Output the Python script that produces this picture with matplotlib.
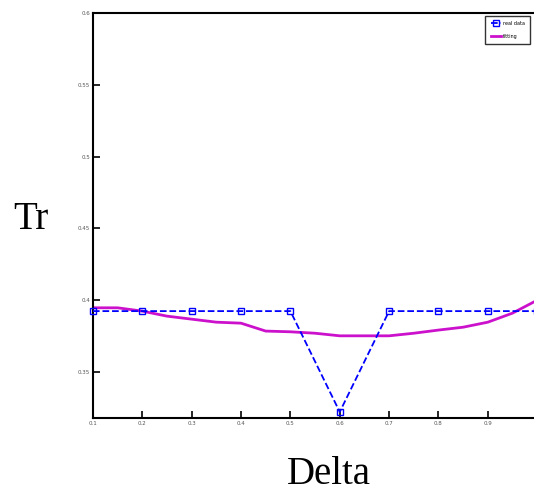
import matplotlib
matplotlib.use('Agg')
import matplotlib.pyplot as plt

# values
delta_real = [0.1, 0.2, 0.3, 0.4, 0.5, 0.6, 0.7, 0.8, 0.9, 1.0]
tr_real = [0.3924, 0.3924, 0.3924, 0.3924, 0.3924, 0.3222, 0.3924, 0.3924, 0.3924, 0.3924]

delta_fit = [0.1, 0.15, 0.2, 0.25, 0.3, 0.35, 0.4, 0.45, 0.5, 0.55, 0.6,
             0.65, 0.7, 0.75, 0.8, 0.85, 0.9, 0.95, 1.0]
tr_fit = [0.3947, 0.3947, 0.3924, 0.3889, 0.3868, 0.3847, 0.384, 0.3785, 0.378,
          0.377, 0.3752, 0.3752, 0.3752, 0.377, 0.3792, 0.3812, 0.3847, 0.391, 0.400]

x_ticks = [0.1, 0.2, 0.3, 0.4, 0.5, 0.6, 0.7, 0.8, 0.9]
y_ticks = [0.35, 0.4, 0.45, 0.5, 0.55, 0.6]

fig = plt.figure(figsize=(5.34, 4.97), dpi=100)
ax = fig.add_axes([0.174, 0.159, 0.832, 0.815])

ax.plot(delta_real, tr_real, color='#0000ff', linestyle='--', linewidth=1.3,
        marker='s', markersize=4, markerfacecolor='none', markeredgewidth=1.0,
        label='real data', clip_on=False, zorder=3)
ax.plot(delta_fit, tr_fit, color='#cc11cc', linewidth=2.0, label='fitting',
        zorder=2)

ax.set_xlim(0.1, 1.0)
ax.set_ylim(0.318, 0.6)
ax.set_xticks(x_ticks)
ax.set_yticks(y_ticks)
ax.set_xticklabels([f'{v:g}' for v in x_ticks])
ax.set_yticklabels([f'{v:g}' for v in y_ticks])
ax.tick_params(direction='in', length=5, width=1.2, labelsize=4,
               labelcolor='#555555', pad=2)
for spine in ax.spines.values():
    spine.set_linewidth(1.5)

ax.set_xlabel('Delta', family='Liberation Serif', fontsize=28)
ax.xaxis.set_label_coords(0.53, -0.14)
ax.xaxis.label.set_va('center')
ax.set_ylabel('Tr', family='Liberation Serif', fontsize=28, rotation=0,
              va='center', ha='center')
ax.yaxis.set_label_coords(-0.14, 0.49)

leg = ax.legend(loc='upper right', fontsize=3.5, frameon=True, fancybox=False,
                edgecolor='black', handlelength=2.0, borderpad=1.1,
                labelspacing=1.6, handletextpad=0.5,
                bbox_to_anchor=(0.99, 0.999))
leg.get_frame().set_linewidth(1.0)

fig.savefig('out.png', dpi=100)
